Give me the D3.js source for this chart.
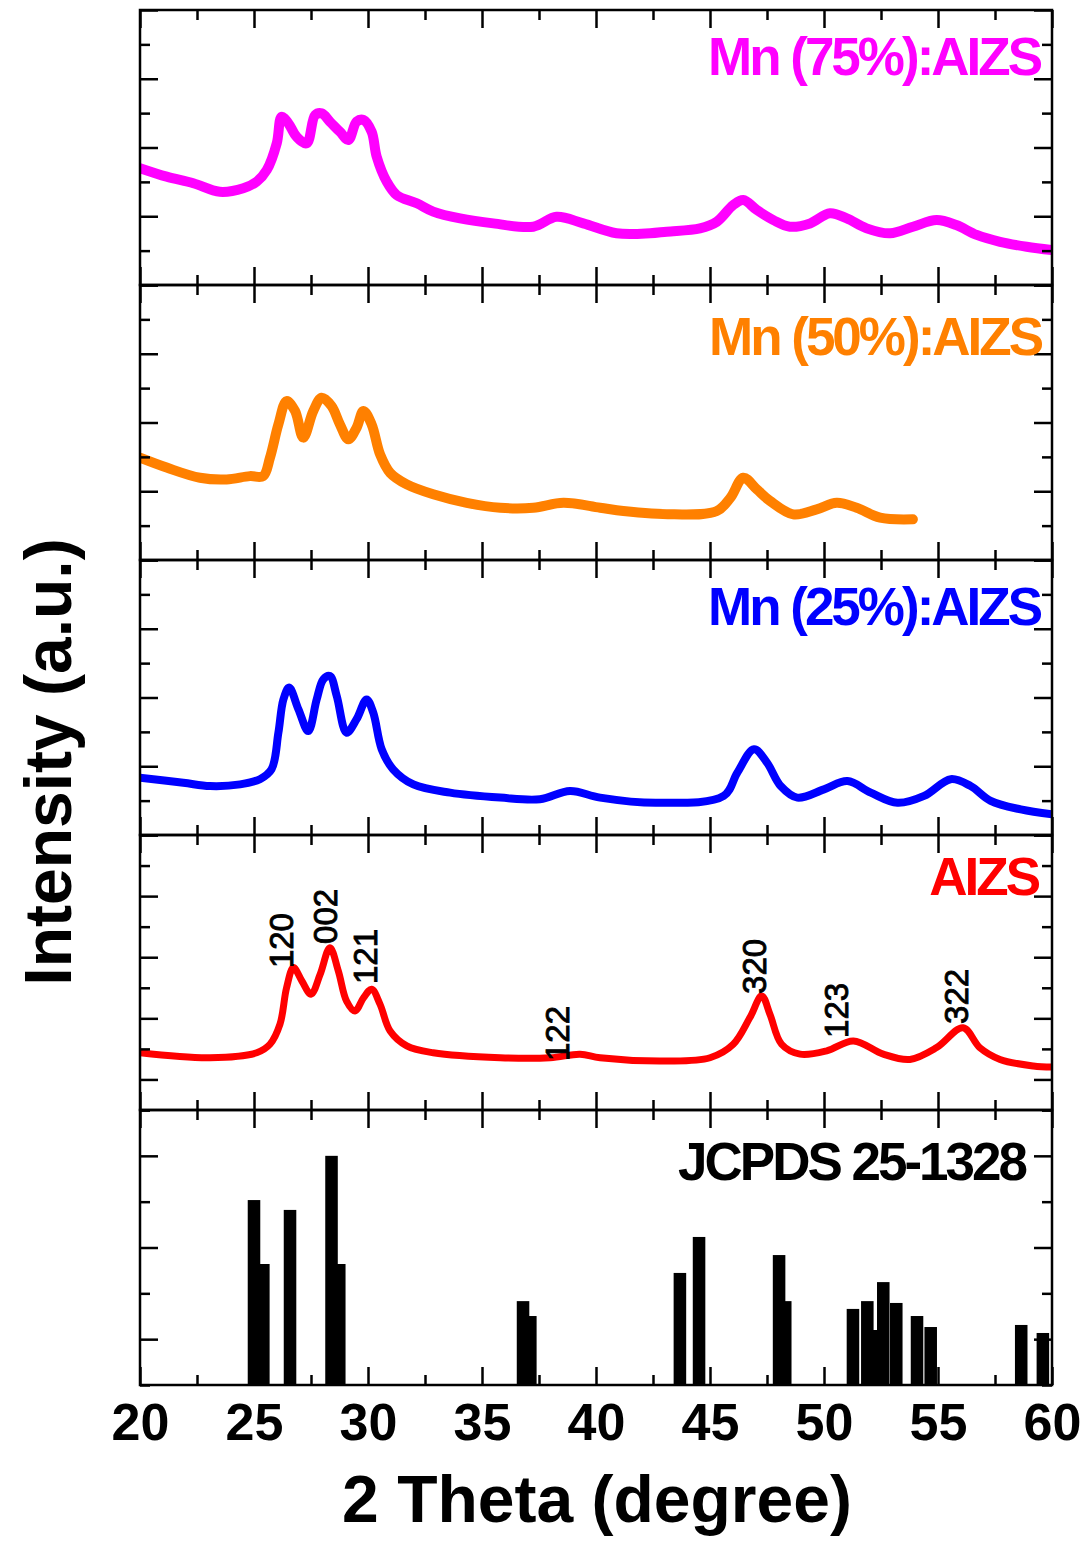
<!DOCTYPE html>
<html>
<head>
<meta charset="utf-8">
<script src="https://cdn.jsdelivr.net/npm/d3@7"></script>
<style>
  html, body { margin: 0; padding: 0; background: #fff; }
  svg { display: block; font-family: "Liberation Sans", Arial, sans-serif; }
</style>
</head>
<body>
<div id="chart"></div>
<script>
// ---------------- DATA ----------------
// [2theta (deg), intensity (a.u., panel-relative 0-100)]
const mn75 = [[20,42.5],[21.17,39.4],[22.34,37.0],[23.5,33.9],[24.53,35.2],[25.12,37.6],[25.56,41.8],[26.0,51.6],[26.21,61.2],[26.5,58.9],[26.87,53.9],[27.31,51.5],[27.68,61.8],[27.97,62.4],[28.33,59.4],[28.77,55.7],[29.14,52.7],[29.5,59.4],[29.8,60],[30.16,55.7],[30.38,46.7],[30.82,37.6],[31.26,32.7],[32.14,29.7],[32.86,26.7],[34.04,24.2],[35.5,22.4],[37.25,21.2],[38.27,24.8],[39.44,22.4],[40.9,18.8],[42.37,18.8],[43.1,19.4],[44.56,20.6],[45.3,23],[46.02,29.1],[46.46,30.9],[47.05,27.3],[47.78,23.6],[48.5,21.2],[49.39,22.4],[50.26,26.1],[51.0,24.2],[51.87,20.6],[52.9,18.8],[53.9,21.2],[54.94,23.6],[55.8,21.8],[56.7,18.2],[57.72,15.7],[58.89,13.9],[60,12.7]];
const mn50 = [[20,37.2],[21.17,33.6],[22.63,29.9],[23.8,29.3],[24.82,30.5],[25.4,30.5],[25.7,37.2],[26.07,49.3],[26.43,57.8],[26.8,54.2],[27.16,44.5],[27.6,54.2],[27.97,59],[28.4,56],[28.77,49.3],[29.14,43.9],[29.5,48.1],[29.8,54.2],[30.16,49.3],[30.53,38.4],[30.97,31.7],[31.7,27.5],[32.86,23.9],[34.33,20.8],[35.8,19],[37.25,19],[38.57,20.8],[40.18,19],[41.2,17.8],[43.39,16.6],[45.3,17.8],[45.9,22.7],[46.46,29.9],[47.05,25.7],[47.63,21.5],[48.65,16.6],[49.68,18.4],[50.56,20.8],[51.43,19],[52.46,15.4],[53.9,14.8]];
const mn25 = [[20,20.8],[21.9,19],[23.07,17.8],[24.39,18.4],[25.26,20.3],[25.77,23.9],[26.07,37.2],[26.29,49.3],[26.54,53.6],[26.95,45.7],[27.38,37.8],[27.75,49.3],[28.04,56.6],[28.33,57.8],[28.63,50.5],[29.06,37.2],[29.5,42.1],[29.94,49.3],[30.23,44.5],[30.6,31.2],[31.1,23.9],[31.99,18.4],[33.6,15.4],[35.8,13.6],[37.54,13],[38.86,16],[40.18,13.6],[42.66,11.7],[45.6,14.2],[46.2,22.7],[46.93,31.2],[47.5,26.3],[48.1,17.8],[48.83,13.6],[50,16.6],[51.03,19.6],[52.05,15.4],[53.22,11.7],[54.39,14.2],[55.56,20.3],[56.43,17.8],[57.31,12.4],[58.63,9.3],[60,7.5]];
const aizs = [[20,20.8],[23.07,19],[25.12,20.8],[25.7,23.9],[26.14,31.2],[26.43,44.5],[26.73,51.8],[27.1,46.9],[27.5,42.1],[27.9,49.3],[28.33,59],[28.7,50.5],[29.06,39.6],[29.43,36],[29.8,40.8],[30.16,43.9],[30.53,38.4],[30.97,28.7],[31.7,23.3],[32.86,20.8],[35.8,19],[37.99,19],[39.3,20.3],[40.18,19],[43.1,17.8],[45,19],[46.02,23.9],[46.75,33.6],[47.27,41.5],[47.63,34.8],[48.14,23.9],[48.95,20.3],[50.12,21.5],[51.29,25.1],[52.6,20.3],[53.77,18.4],[54.94,22.7],[56.1,29.9],[56.83,22.7],[57.72,18.4],[59.18,16],[60,15.6]];
// JCPDS 25-1328 reference lines: [2theta, relative intensity]
const jcpds = [[25.0,80.7],[25.41,52.8],[26.58,76.4],[28.4,100],[28.74,52.8],[36.8,36.6],[37.12,30.1],[43.68,48.9],[44.52,64.6],[48.03,56.7],[48.3,36.6],[51.27,33.2],[51.9,36.6],[52.24,24],[52.6,44.9],[53.17,35.8],[54.08,30.1],[54.68,25.3],[58.65,26.2],[59.6,22.7]];
// Miller index labels on the AlZS pattern: [label, 2theta, intensity at label start]
const hklLabels = [["120",26.18,51.6],["002",28.11,60.4],["121",29.87,45.8],["122",38.29,17.8],["320",46.93,42.2],["123",50.53,26.2],["322",55.79,31.3]];
const seriesNames = ["Mn (75%):AIZS","Mn (50%):AIZS","Mn (25%):AIZS","AIZS","JCPDS 25-1328"];
const xTickLabels = [20,25,30,35,40,45,50,55,60];
const xMinorTicks = [22.5,27.5,32.5,37.5,42.5,47.5,52.5,57.5];
const xLabel = "2 Theta (degree)";
const yLabel = "Intensity (a.u.)";

// ---------------- LAYOUT ----------------
const W = 1090, H = 1542;
const left = 140, right = 1052, top0 = 10, ph = 275;
const colors = ["#ff00ff", "#ff8000", "#0000ff", "#ff0000", "#000000"];
const series = [mn75, mn50, mn25, aizs];
const font = "'Liberation Sans', Arial, sans-serif";

const svg = d3.select("#chart").append("svg").attr("width", W).attr("height", H);

const x = d3.scaleLinear().domain([20, 60]).range([left, right]);

const panels = d3.range(5).map(i => {
  const t = top0 + i * ph, b = t + ph;
  let dom, ticks, isMajor;
  if (i < 3) { dom = [0,100]; ticks = d3.range(9).map(k => k*12.5); isMajor = k => k % 2 === 0; }
  else if (i === 3) { dom = [0,100]; ticks = d3.range(10).map(k => k*100/9); isMajor = k => k % 2 === 1; }
  else { dom = [0,120]; ticks = d3.range(7).map(k => k*20); isMajor = k => k % 2 === 1; }
  const y = d3.scaleLinear().domain(dom).range([b, t]);
  return {i, t, b, y, ticks, isMajor};
});

const defs = svg.append("defs");
panels.forEach(p => {
  defs.append("clipPath").attr("id", "clip" + p.i)
    .append("rect").attr("x", left).attr("y", p.t).attr("width", right-left).attr("height", ph);
});

// curves
const widths = [10, 10, 8, 7];
series.forEach((data, i) => {
  const p = panels[i];
  const line = d3.line().x(d => x(d[0])).y(d => p.y(d[1])).curve(d3.curveCatmullRom.alpha(0.5));
  svg.append("path").datum(data)
    .attr("clip-path", `url(#clip${i})`)
    .attr("d", line)
    .attr("fill", "none")
    .attr("stroke", colors[i])
    .attr("stroke-width", widths[i])
    .attr("stroke-linejoin", "round")
    .attr("stroke-linecap", "round");
});

// reference bars
const pb = panels[4];
const barW = x(20.55) - x(20);
svg.append("g").attr("clip-path", "url(#clip4)")
  .selectAll("rect").data(jcpds).join("rect")
  .attr("x", d => x(d[0]) - barW/2)
  .attr("y", d => pb.y(d[1]))
  .attr("width", barW)
  .attr("height", d => pb.y(0) - pb.y(d[1]))
  .attr("fill", "#000");

// ticks
function styleAxis(g) {
  g.select(".domain").remove();
  g.selectAll(".tick line").attr("stroke", "#000").attr("stroke-width", 2.5);
  g.selectAll(".tick text").remove();
}
panels.forEach(p => {
  svg.append("g").attr("transform", `translate(0,${p.b})`)
    .call(d3.axisBottom(x).tickValues(xTickLabels).tickSize(-18).tickFormat("")).call(styleAxis);
  svg.append("g").attr("transform", `translate(0,${p.b})`)
    .call(d3.axisBottom(x).tickValues(xMinorTicks).tickSize(-10).tickFormat("")).call(styleAxis);
  svg.append("g").attr("transform", `translate(0,${p.t})`)
    .call(d3.axisTop(x).tickValues(xTickLabels).tickSize(-18).tickFormat("")).call(styleAxis);
  svg.append("g").attr("transform", `translate(0,${p.t})`)
    .call(d3.axisTop(x).tickValues(xMinorTicks).tickSize(-10).tickFormat("")).call(styleAxis);
  const maj = p.ticks.filter((v, k) => p.isMajor(k));
  const min = p.ticks.filter((v, k) => !p.isMajor(k));
  svg.append("g").attr("transform", `translate(${left},0)`)
    .call(d3.axisRight(p.y).tickValues(maj).tickSize(18).tickFormat("")).call(styleAxis);
  svg.append("g").attr("transform", `translate(${left},0)`)
    .call(d3.axisRight(p.y).tickValues(min).tickSize(10).tickFormat("")).call(styleAxis);
  svg.append("g").attr("transform", `translate(${right},0)`)
    .call(d3.axisLeft(p.y).tickValues(maj).tickSize(18).tickFormat("")).call(styleAxis);
  svg.append("g").attr("transform", `translate(${right},0)`)
    .call(d3.axisLeft(p.y).tickValues(min).tickSize(10).tickFormat("")).call(styleAxis);
  svg.append("rect").attr("x", left).attr("y", p.t).attr("width", right-left).attr("height", ph)
    .attr("fill", "none").attr("stroke", "#000").attr("stroke-width", 2.5);
});

// hkl labels
const pr = panels[3];
svg.append("g").selectAll("text").data(hklLabels).join("text")
  .attr("transform", d => `translate(${x(d[1])},${pr.y(d[2])}) rotate(-90)`)
  .attr("dy", "0.36em")
  .attr("font-family", font).attr("font-size", 33).attr("fill", "#000")
  .attr("stroke", "#000").attr("stroke-width", 0.9)
  .text(d => d[0]);

// series labels
const labelPos = [[1037, 75], [1038, 355], [1037, 625], [1035, 895], [1022, 1180]];
seriesNames.forEach((s, i) => {
  svg.append("text")
    .attr("x", labelPos[i][0] + 3).attr("y", labelPos[i][1])
    .attr("text-anchor", "end")
    .attr("font-family", font).attr("font-weight", "bold").attr("font-size", 53)
    .attr("letter-spacing", -3)
    .attr("fill", colors[i])
    .text(s);
});

// x tick labels
const xa = svg.append("g").attr("transform", `translate(0,${pb.b})`)
  .call(d3.axisBottom(x).tickValues(xTickLabels).tickSize(0).tickPadding(18).tickFormat(d => d));
xa.select(".domain").remove();
xa.selectAll("text").attr("font-family", font).attr("font-weight", "bold").attr("font-size", 52).attr("fill", "#000");

// axis titles
svg.append("text").attr("x", 597).attr("y", 1522).attr("text-anchor", "middle")
  .attr("font-family", font).attr("font-weight", "bold").attr("font-size", 66).attr("fill", "#000")
  .text(xLabel);
svg.append("text").attr("transform", "translate(71,762) rotate(-90)").attr("text-anchor", "middle")
  .attr("font-family", font).attr("font-weight", "bold").attr("font-size", 66).attr("fill", "#000")
  .text(yLabel);
</script>
</body>
</html>
